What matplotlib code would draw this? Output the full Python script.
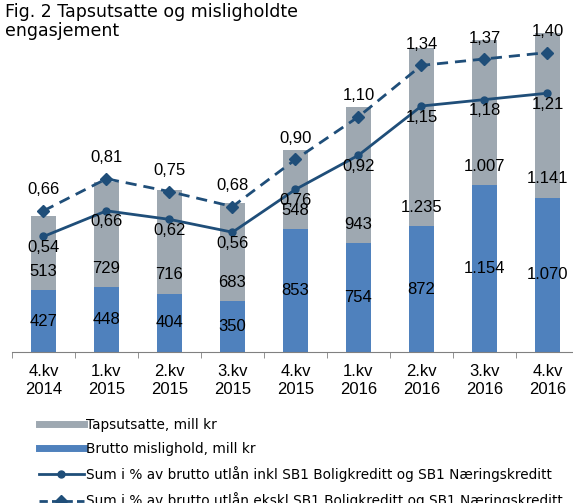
import matplotlib
matplotlib.use('Agg')
import matplotlib.pyplot as plt
from matplotlib.lines import Line2D
import numpy as np

# Data
quarters = ['4.kv\n2014', '1.kv\n2015', '2.kv\n2015', '3.kv\n2015', '4.kv\n2015',
            '1.kv\n2016', '2.kv\n2016', '3.kv\n2016', '4.kv\n2016']
brutto_mislighold = [427, 448, 404, 350, 853, 754, 872, 1154, 1070]
tapsutsatte = [513, 729, 716, 683, 548, 943, 1235, 1007, 1141]
pct_inkl = [0.54, 0.66, 0.62, 0.56, 0.76, 0.92, 1.15, 1.18, 1.21]
pct_ekskl = [0.66, 0.81, 0.75, 0.68, 0.90, 1.10, 1.34, 1.37, 1.40]

grey = '#9EA8B1'
blue = '#4F81BD'
navy = '#1F4E79'


def nor_int(v):
    return f'{v:,}'.replace(',', '.')


def nor_dec(v):
    return f'{v:.2f}'.replace('.', ',')


fig = plt.figure(figsize=(5.73, 5.03), dpi=100)
# axes in pixel terms: left 12, baseline at 352, top at 20, right runs past the image
ax = fig.add_axes([12 / 573, 151 / 503, 567 / 573, 332 / 503])
ax2 = ax.twinx()

x = np.arange(len(quarters))
ax.bar(x, brutto_mislighold, width=0.4, color=blue)
ax.bar(x, tapsutsatte, width=0.4, bottom=brutto_mislighold, color=grey)

# scales: 0.1443 px per mill kr, 213.9 px per percent point
ax.set_ylim(0, 332 / 0.1443)
ax2.set_ylim(0, 332 / 213.9)
ax.set_xlim(-0.5, len(quarters) - 0.5)

ax2.plot(x, pct_inkl, color=navy, lw=2, marker='o', ms=5)
ax2.plot(x, pct_ekskl, color=navy, lw=2, ls=(0, (4, 2.5)), marker='D', ms=6.5)

lab_font = dict(fontsize=12, family='Liberation Sans', ha='center', va='center')
for i in range(len(x)):
    ax.text(x[i], brutto_mislighold[i] / 2, nor_int(brutto_mislighold[i]), **lab_font)
    ax.annotate(nor_int(tapsutsatte[i]), (x[i], brutto_mislighold[i]),
                xytext=(0, 13.5), textcoords='offset points', **lab_font)
    ax2.annotate(nor_dec(pct_inkl[i]), (x[i], pct_inkl[i]),
                 xytext=(0, -8), textcoords='offset points', **lab_font)
    ax2.annotate(nor_dec(pct_ekskl[i]), (x[i], pct_ekskl[i]),
                 xytext=(0, 15), textcoords='offset points', **lab_font)

for a in (ax, ax2):
    for s in ['top', 'right', 'left']:
        a.spines[s].set_visible(False)
    a.set_yticks([])
ax2.spines['bottom'].set_visible(False)
ax.spines['bottom'].set_color('#808080')

ax.set_xticks(x)
ax.set_xticklabels(quarters, fontsize=12, family='Liberation Sans')
ax.tick_params(axis='x', which='major', length=0, pad=9)
ax.set_xticks(np.arange(len(quarters) + 1) - 0.5, minor=True)
ax.tick_params(axis='x', which='minor', length=4, color='#808080')

fig.text(5 / 573, 1 - 3 / 503, 'Fig. 2 Tapsutsatte og misligholdte\nengasjement',
         fontsize=12.5, family='DejaVu Sans', va='top', ha='left', linespacing=1.05)

handles = [
    Line2D([], [], color=grey, lw=5),
    Line2D([], [], color=blue, lw=5),
    Line2D([], [], color=navy, lw=2, marker='o', ms=5),
    Line2D([], [], color=navy, lw=2, ls=(0, (3, 1.5)), marker='D', ms=6),
]
labels = ['Tapsutsatte, mill kr', 'Brutto mislighold, mill kr',
          'Sum i % av brutto utlån inkl SB1 Boligkreditt og SB1 Næringskreditt',
          'Sum i % av brutto utlån ekskl SB1 Boligkreditt og SB1 Næringskreditt']
fig.legend(handles, labels, loc='upper left', bbox_to_anchor=(32 / 573, 1 - 411 / 503),
           frameon=False, prop={'family': 'DejaVu Sans', 'size': 9.8},
           handlelength=3.3, handletextpad=0.2, labelspacing=0.75, borderpad=0)

fig.savefig('out.png', dpi=100)
